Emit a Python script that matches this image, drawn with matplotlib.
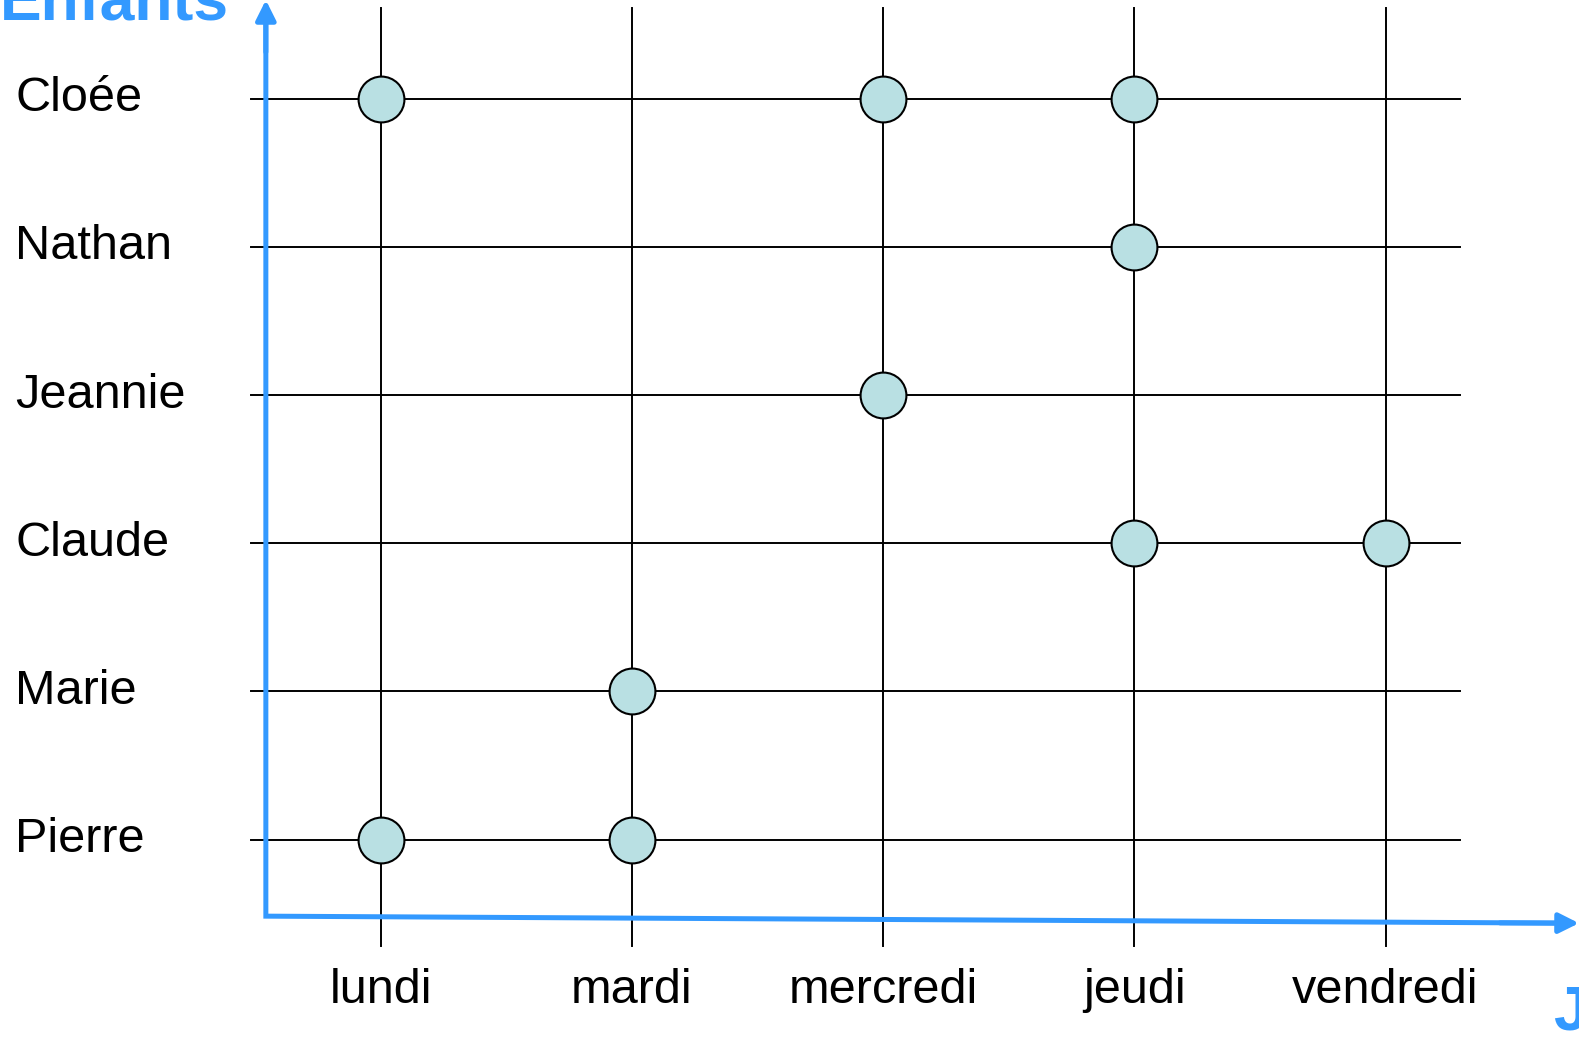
import matplotlib.pyplot as plt

# Jours et enfants (de bas en haut)
jours = ['lundi', 'mardi', 'mercredi', 'jeudi', 'vendredi']
enfants = ['Pierre', 'Marie', 'Claude', 'Jeannie', 'Nathan', 'Cloée']

# Présences : un cercle par couple (enfant, jour)
presence_enfant = ['Cloée', 'Cloée', 'Cloée', 'Nathan', 'Jeannie',
                   'Claude', 'Claude', 'Marie', 'Pierre', 'Pierre']
presence_jour = ['lundi', 'mercredi', 'jeudi', 'jeudi', 'mercredi',
                 'jeudi', 'vendredi', 'mardi', 'lundi', 'mardi']

blue = '#3399FF'
plt.rcParams['font.family'] = ['Liberation Sans', 'DejaVu Sans']

fig = plt.figure(figsize=(15.79, 10.42), dpi=100)
ax = fig.add_axes([0, 0, 1, 1])
ax.set_xlim(-1.515, 4.770)
ax.set_ylim(-1.3655, 5.666)
ax.axis('off')

# grille
for i, j in enumerate(jours):
    ax.plot([i, i], [-0.72, 5.612], color='black', lw=1.4, zorder=1)
    ax.text(i, -1.02, j, ha='center', va='center', fontsize=35)
for k, e in enumerate(enfants):
    ax.plot([-0.517, 4.297], [k, k], color='black', lw=1.4, zorder=1)
    ax.text(-1.455, k, e, ha='left', va='center', fontsize=35)

# cercles
xs = [jours.index(j) for j in presence_jour]
ys = [enfants.index(e) for e in presence_enfant]
ax.plot(xs, ys, 'o', ms=33, mfc='#B9E0E3', mec='black', mew=1.5,
        ls='none', zorder=3)

# axes bleus avec flèches
x0 = 264 / 1568
y0 = 1 - 910 / 1035
x1, y1 = 1.0, 1 - 917 / 1035
ax.plot([x0, x0, x1 - 0.01], [0.985, y0, y1 + 0.0001], color=blue, lw=3.6,
        transform=ax.transAxes, solid_joinstyle='miter',
        solid_capstyle='butt', zorder=4)
ax.annotate('', xy=(x0, 1.0), xytext=(x0, 0.95),
            xycoords='axes fraction', textcoords='axes fraction',
            arrowprops=dict(arrowstyle='-|>', color=blue, lw=3.6,
                            mutation_scale=30, shrinkA=0, shrinkB=0))
ax.annotate('', xy=(x1, y1), xytext=(x1 - 0.05, y1 + 0.0003),
            xycoords='axes fraction', textcoords='axes fraction',
            arrowprops=dict(arrowstyle='-|>', color=blue, lw=3.6,
                            mutation_scale=30, shrinkA=0, shrinkB=0))

fig.text(0.0, 1 - 20 / 1042, 'Enfants', color=blue, fontsize=45,
         fontweight='bold', ha='left', va='baseline')
fig.text(1553 / 1579, 1 - 1030 / 1042, 'J', color=blue, fontsize=45,
         fontweight='bold', ha='left', va='baseline')

fig.savefig('out.png', dpi=100)
